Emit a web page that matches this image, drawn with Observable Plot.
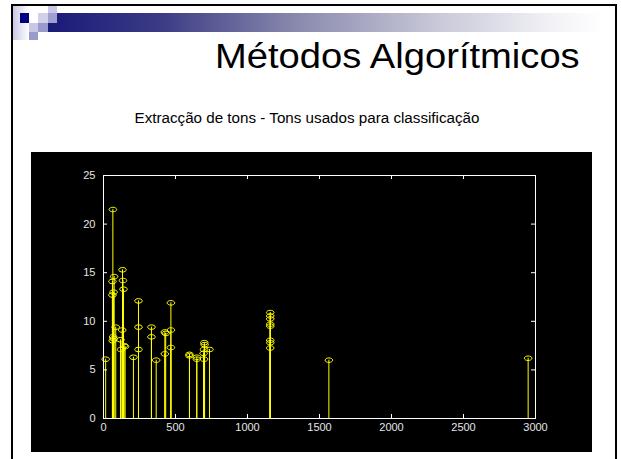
<!DOCTYPE html>
<html>
<head>
<meta charset="utf-8">
<script src="https://cdn.jsdelivr.net/npm/d3@7"></script>
<script src="https://cdn.jsdelivr.net/npm/@observablehq/plot@0.6"></script>
<style>
  html, body { margin: 0; padding: 0; background: #fff; }
  #slide { position: relative; width: 621px; height: 459px; overflow: hidden; background: #fff; font-family: Arial, "Liberation Sans", sans-serif; }
  .abs { position: absolute; }
  #border { left: 11px; top: 4px; width: 602px; height: 500px; border: 2px solid #000; }
  #bar { left: 48px; top: 13px; width: 555px; height: 19px; background: linear-gradient(to right, #1a1a78 0%, #3a3a86 20%, #8a8aae 45%, #c8c8d8 70%, #f4f4f8 92%, #ffffff 100%); }
  #title { left: 215px; top: 38px; font-size: 35px; line-height: 1; color: #000; white-space: nowrap; transform: scaleX(1.09); transform-origin: left top; }
  #subtitle { left: 0; width: 614px; text-align: center; top: 110px; font-size: 15.2px; line-height: 1; color: #000; white-space: nowrap; }
  #chart { left: 31px; top: 152px; }
</style>
</head>
<body>
<div id="slide">
  <div class="abs" id="border"></div>
  <div class="abs" style="left:13px;top:6px;width:16px;height:34px;background:linear-gradient(to right,#c8c8e6,#ffffff);"></div>
  <div class="abs" id="bar"></div>
  <div class="abs" style="left:20px;top:13px;width:9px;height:10px;background:#000080;"></div>
  <div class="abs" style="left:38px;top:13px;width:10px;height:10px;background:#d0d0e8;"></div>
  <div class="abs" style="left:48px;top:6px;width:9px;height:7px;background:#c8c8e4;"></div>
  <div class="abs" style="left:48px;top:13px;width:9px;height:10px;background:#a0a0d0;"></div>
  <div class="abs" style="left:29px;top:23px;width:9px;height:9px;background:#c8c8e6;"></div>
  <div class="abs" style="left:38px;top:23px;width:10px;height:9px;background:#9a9acd;"></div>
  <div class="abs" style="left:29px;top:32px;width:9px;height:8px;background:#9a9acd;"></div>
  <div class="abs" id="title">Métodos Algorítmicos</div>
  <div class="abs" id="subtitle">Extracção de tons - Tons usados para classificação</div>
  <div class="abs" id="chart"></div>
</div>
<script>
// Data (frequency, amplitude)
const freqs = [15, 65, 74, 62, 70, 62, 67, 70, 64, 85, 118, 122, 132, 135, 139, 130, 143, 150, 208, 243, 243, 243, 333, 333, 366, 426, 432, 426, 468, 468, 468, 597, 597, 648, 648, 700, 702, 698, 695, 698, 736, 1158, 1158, 1158, 1158, 1158, 1158, 1158, 1158, 1565, 2949];
const amps  = [6.1, 21.5, 14.6, 14.1, 13.0, 12.7, 8.4, 8.2, 8.0, 9.4, 8.1, 7.1, 15.3, 14.2, 13.3, 9.1, 7.5, 7.4, 6.3, 12.1, 9.4, 7.1, 9.4, 8.4, 6.0, 8.9, 8.75, 6.65, 11.9, 9.1, 7.3, 6.6, 6.45, 6.3, 6.1, 7.8, 7.6, 7.1, 6.7, 6.1, 7.1, 10.9, 10.55, 10.25, 9.7, 9.5, 8.05, 7.8, 7.25, 6.0, 6.2];
const xTicks = [0, 500, 1000, 1500, 2000, 2500, 3000];
const yTicks = [0, 5, 10, 15, 20, 25];

const points = freqs.map((f, i) => ({f, a: amps[i]}));

const W = 561, H = 300, mL = 72, mR = 57, mT = 23, mB = 34;
const innerW = W - mL - mR, innerH = H - mT - mB;

// elliptical marker like the original stem plot
const ellipse = {
  draw(context, size) {
    const r = Math.sqrt(size / Math.PI);
    const rx = r, ry = r * 0.6, k = 0.5523;
    context.moveTo(rx, 0);
    context.bezierCurveTo(rx, k * ry, k * rx, ry, 0, ry);
    context.bezierCurveTo(-k * rx, ry, -rx, k * ry, -rx, 0);
    context.bezierCurveTo(-rx, -k * ry, -k * rx, -ry, 0, -ry);
    context.bezierCurveTo(k * rx, -ry, rx, -k * ry, rx, 0);
    context.closePath();
  }
};

const yellow = "#ffff00";
const chart = Plot.plot({
  width: W, height: H,
  marginLeft: mL, marginRight: mR, marginTop: mT, marginBottom: mB,
  style: {background: "#000", color: "#e6e6e6", fontFamily: "Arial, 'Liberation Sans', sans-serif", fontSize: "11px"},
  x: {domain: [0, 3000]},
  y: {domain: [0, 25]},
  marks: [
    Plot.ruleX(points, {x: "f", y1: 0, y2: "a", stroke: yellow, strokeWidth: 1}),
    Plot.dot(points, {x: "f", y: "a", symbol: ellipse, r: 3.8, stroke: yellow, fill: "none", strokeWidth: 1}),
    Plot.frame({stroke: "#fff"}),
    Plot.tickX(xTicks, {x: d => d, insetTop: innerH - 4, stroke: "#fff"}),
    Plot.tickX(xTicks, {x: d => d, insetBottom: innerH - 4, stroke: "#fff"}),
    Plot.tickY(yTicks, {y: d => d, insetRight: innerW - 4, stroke: "#fff"}),
    Plot.tickY(yTicks, {y: d => d, insetLeft: innerW - 4, stroke: "#fff"}),
    Plot.axisX({ticks: xTicks, tickSize: 0, tickPadding: 5, tickFormat: d => String(d), label: null}),
    Plot.axisY({ticks: yTicks, tickSize: 0, tickPadding: 8, tickFormat: d => String(d), label: null})
  ]
});
document.getElementById("chart").appendChild(chart);
</script>
</body>
</html>
